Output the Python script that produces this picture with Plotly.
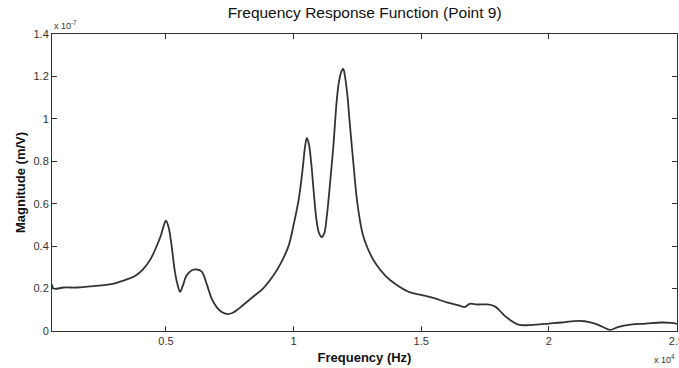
import plotly.graph_objects as go

# Frequency in units of 1e4 Hz, magnitude in units of 1e-7 m/V
freq_e4 = [0.0535, 0.06, 0.10, 0.15, 0.20, 0.25, 0.30, 0.35, 0.38, 0.41, 0.44, 0.46, 0.48, 0.495, 0.50,
           0.51, 0.52, 0.535, 0.545, 0.555, 0.565, 0.58, 0.60, 0.62, 0.64, 0.66, 0.68, 0.70, 0.72, 0.74,
           0.76, 0.78, 0.80, 0.84, 0.88, 0.92, 0.95, 0.98, 1.00, 1.02, 1.035, 1.045, 1.052, 1.06, 1.07,
           1.08, 1.09, 1.10, 1.11, 1.12, 1.13, 1.14, 1.155, 1.17, 1.18, 1.19, 1.195, 1.20, 1.21, 1.22,
           1.235, 1.25, 1.27, 1.29, 1.32, 1.36, 1.40, 1.45, 1.50, 1.55, 1.60, 1.65, 1.67, 1.69, 1.72,
           1.76, 1.79, 1.82, 1.85, 1.88, 1.91, 1.95, 2.00, 2.05, 2.10, 2.14, 2.18, 2.21, 2.24, 2.27,
           2.32, 2.38, 2.44, 2.48, 2.505]
mag_e7 = [0.22, 0.20, 0.205, 0.205, 0.21, 0.215, 0.225, 0.245, 0.26, 0.29, 0.34, 0.39, 0.45, 0.51, 0.52,
          0.49, 0.42, 0.28, 0.22, 0.185, 0.21, 0.26, 0.285, 0.29, 0.28, 0.22, 0.15, 0.11, 0.088, 0.08,
          0.085, 0.10, 0.12, 0.16, 0.20, 0.26, 0.32, 0.40, 0.50, 0.62, 0.76, 0.87, 0.91, 0.88, 0.78,
          0.64, 0.52, 0.46, 0.443, 0.46, 0.54, 0.66, 0.86, 1.10, 1.19, 1.23, 1.235, 1.21, 1.12, 0.98,
          0.78, 0.60, 0.46, 0.39, 0.32, 0.26, 0.22, 0.185, 0.17, 0.155, 0.135, 0.12, 0.113, 0.128, 0.125,
          0.125, 0.115, 0.08, 0.05, 0.03, 0.027, 0.03, 0.035, 0.04, 0.047, 0.046, 0.035, 0.02, 0.005, 0.018,
          0.03, 0.035, 0.04, 0.038, 0.033]

freq_hz = [f * 1e4 for f in freq_e4]
magnitude = [m * 1e-7 for m in mag_e7]

x_tick_vals_e4 = [0.5, 1, 1.5, 2, 2.5]
x_tick_text = ["0.5", "1", "1.5", "2", "2.5"]
y_tick_vals_e7 = [0, 0.2, 0.4, 0.6, 0.8, 1.0, 1.2, 1.4]
y_tick_text = ["0", "0.2", "0.4", "0.6", "0.8", "1", "1.2", "1.4"]

FONT = "Liberation Sans, Arial, sans-serif"
AX = "#333333"

fig = go.Figure()
fig.add_trace(go.Scatter(x=freq_hz, y=magnitude, mode="lines",
                         line=dict(color="#333333", width=1.8), line_shape="spline",
                         showlegend=False))

fig.update_layout(
    width=679, height=368,
    margin=dict(l=52, r=2, t=34, b=37),
    paper_bgcolor="white", plot_bgcolor="white",
    font=dict(family=FONT, color="#222222"),
    title=dict(text="Frequency Response Function (Point 9)", x=0.537, xanchor="center",
               y=0.965, yanchor="middle", font=dict(size=15.5, color="#111111")),
)
fig.update_xaxes(
    range=[0.0535e4, 2.502e4], automargin=False,
    tickvals=[v * 1e4 for v in x_tick_vals_e4], ticktext=x_tick_text,
    ticks="inside", ticklen=5, tickcolor=AX, showline=True, linecolor=AX, linewidth=1,
    mirror="ticks", showgrid=False, zeroline=False,
    tickfont=dict(size=11, color="#333333"), ticklabeloverflow="allow",
    title=dict(text="<b>Frequency (Hz)</b>", font=dict(size=13, color="#111111"), standoff=6),
)
fig.update_yaxes(
    range=[0, 1.4e-7], automargin=False,
    tickvals=[v * 1e-7 for v in y_tick_vals_e7], ticktext=y_tick_text,
    ticks="inside", ticklen=5, tickcolor=AX, showline=True, linecolor=AX, linewidth=1,
    mirror="ticks", showgrid=False, zeroline=False,
    tickfont=dict(size=11, color="#333333"),
    title=dict(text="<b>Magnitude (m/V)</b>", font=dict(size=13, color="#111111"), standoff=4),
)
fig.add_annotation(text="x 10<sup>-7</sup>", xref="paper", yref="paper", x=0.0, y=1.0,
                   xanchor="left", yanchor="bottom", showarrow=False, yshift=1,
                   font=dict(size=9, color="#333333", family=FONT))
fig.add_annotation(text="x 10<sup>4</sup>", xref="paper", yref="paper", x=1.0, y=0.0,
                   xanchor="right", yanchor="top", showarrow=False, yshift=-20,
                   font=dict(size=9, color="#333333", family=FONT))

fig.write_html("out.html")
